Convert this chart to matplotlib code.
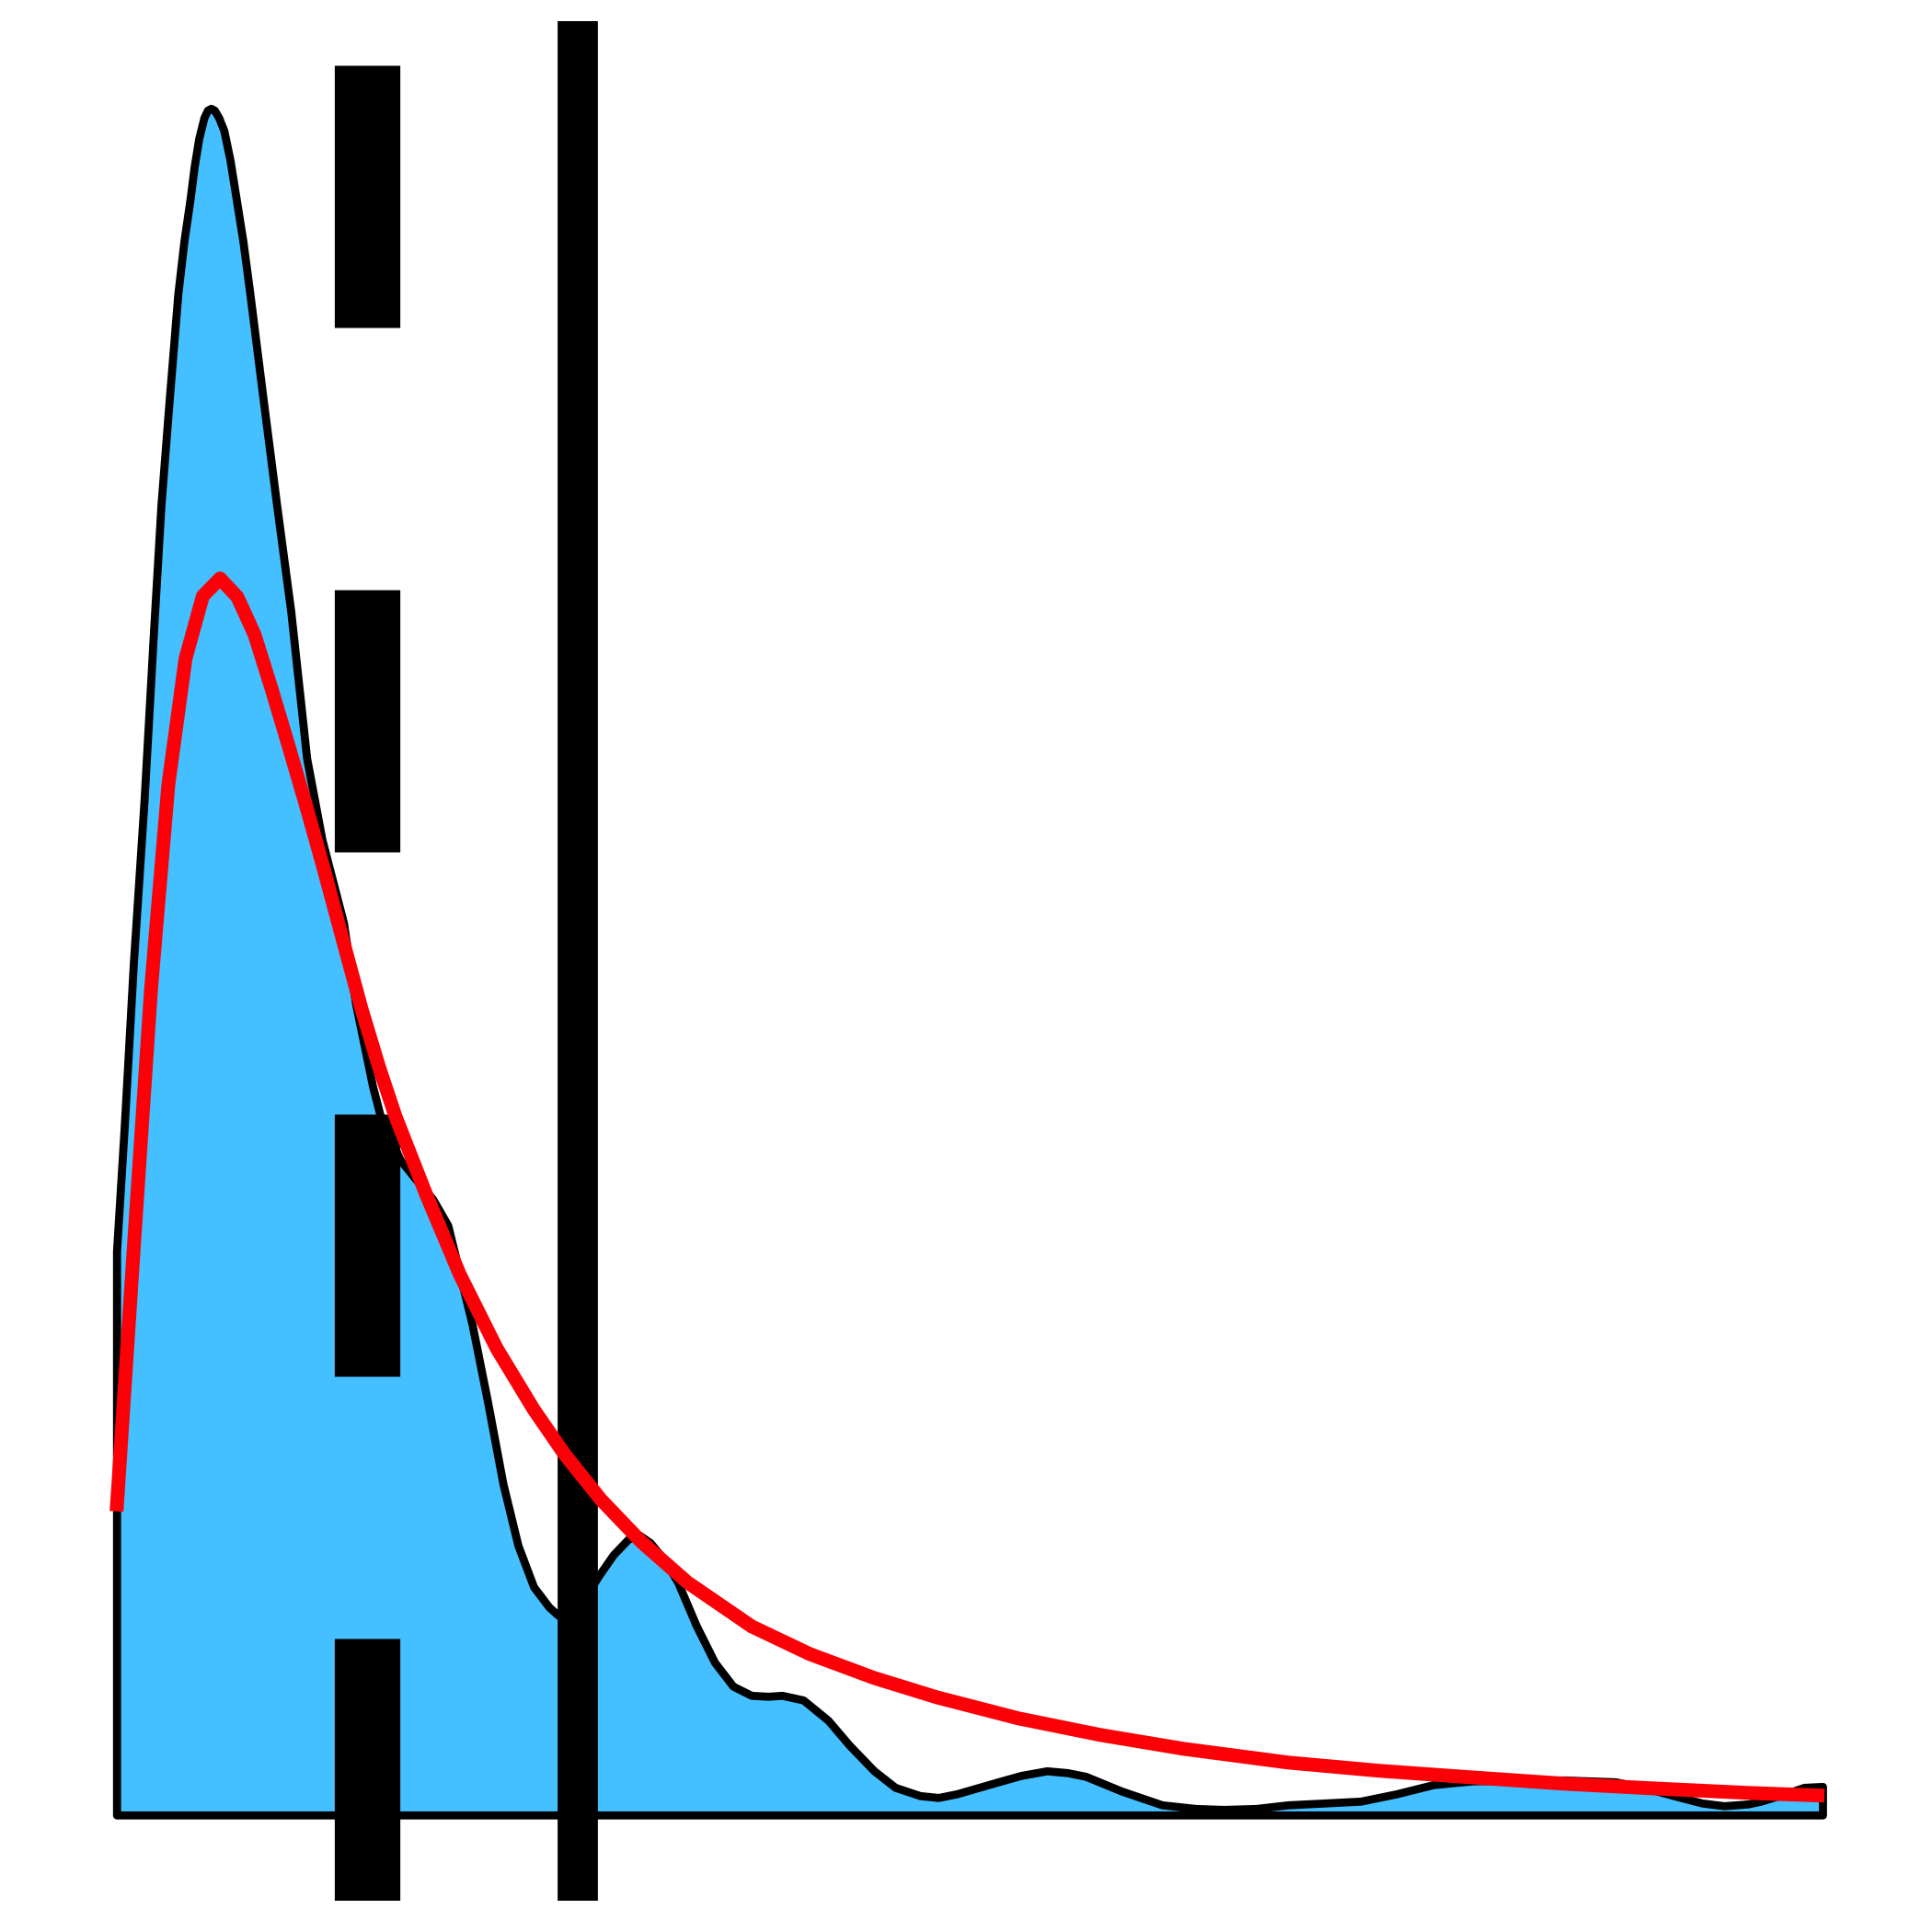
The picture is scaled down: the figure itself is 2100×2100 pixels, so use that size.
import matplotlib
matplotlib.use("Agg")
import matplotlib.pyplot as plt

# Kernel density estimate of the sample (x, density)
density_x = [0.000, 0.083, 0.183, 0.300, 0.400, 0.483, 0.573, 0.666, 0.733, 0.800,
             0.843, 0.893, 0.950, 0.988, 1.026, 1.063, 1.110, 1.166, 1.233, 1.300,
             1.373, 1.450, 1.593, 1.740, 1.893, 2.066, 2.233, 2.466, 2.600, 2.783,
             2.863, 3.083, 3.300, 3.433, 3.600, 3.733, 3.863, 4.033, 4.200, 4.363,
             4.533, 4.700, 4.800, 4.883, 5.013, 5.233, 5.400, 5.563, 5.683, 5.800,
             5.963, 6.100, 6.300, 6.500, 6.700, 6.900, 7.083, 7.233, 7.463, 7.733,
             7.963, 8.233, 8.463, 8.733, 8.933, 9.133, 9.583, 9.833, 10.113, 10.333,
             10.533, 10.923, 11.363, 11.733, 12.033, 12.383, 12.733, 13.133, 13.523, 13.913,
             14.313, 14.733, 15.233, 15.733, 16.293, 16.633, 16.963, 17.233, 17.473, 17.733,
             17.873, 18.133, 18.343, 18.543]
density_y = [0.613, 0.747, 0.926, 1.104, 1.283, 1.424, 1.539, 1.653, 1.711, 1.757,
             1.791, 1.822, 1.845, 1.853, 1.855, 1.853, 1.845, 1.831, 1.799, 1.757,
             1.711, 1.653, 1.539, 1.424, 1.309, 1.149, 1.060, 0.970, 0.881, 0.792,
             0.761, 0.712, 0.685, 0.670, 0.641, 0.587, 0.534, 0.449, 0.360, 0.293,
             0.248, 0.226, 0.217, 0.216, 0.223, 0.259, 0.283, 0.300, 0.304, 0.296,
             0.276, 0.253, 0.206, 0.166, 0.140, 0.130, 0.129, 0.130, 0.125, 0.103,
             0.076, 0.048, 0.030, 0.021, 0.019, 0.023, 0.036, 0.043, 0.048, 0.046,
             0.042, 0.026, 0.011, 0.007, 0.006, 0.007, 0.011, 0.013, 0.015, 0.023,
             0.033, 0.037, 0.038, 0.038, 0.036, 0.029, 0.020, 0.013, 0.010, 0.012,
             0.015, 0.023, 0.030, 0.031]

# Fitted distribution curve (x, pdf)
fit_x = [0.000, 0.188, 0.375, 0.563, 0.750, 0.938, 1.125, 1.313, 1.500, 1.688,
         1.873, 2.063, 2.253, 2.433, 2.663, 2.853, 3.033, 3.363, 3.733, 4.133,
         4.533, 4.863, 5.263, 5.703, 6.203, 6.903, 7.533, 8.233, 8.913, 9.803,
         10.693, 11.593, 12.733, 13.733, 14.713, 15.733, 16.683, 17.733, 18.563]
fit_y = [0.330, 0.618, 0.898, 1.120, 1.257, 1.325, 1.344, 1.324, 1.283, 1.223,
         1.161, 1.096, 1.028, 0.961, 0.876, 0.813, 0.759, 0.675, 0.587, 0.507,
         0.441, 0.393, 0.343, 0.297, 0.253, 0.205, 0.175, 0.149, 0.128, 0.105,
         0.087, 0.072, 0.057, 0.048, 0.041, 0.034, 0.029, 0.024, 0.021]

median_x = 2.723
mean_x = 5.016

fig = plt.figure(figsize=(7, 7), dpi=300)
ax = fig.add_axes([0.016, 0.01619, 0.972, 0.97286])
ax.set_xlim(-0.931, 19.481)
ax.set_ylim(-0.0932, 1.9498)

ax.fill_between(density_x, density_y, 0, facecolor="#44BFFF", edgecolor="black",
                linewidth=2.1, joinstyle="round", zorder=1)
ax.axvline(median_x, color="black", lw=17.1, linestyle=(0, (4, 4)),
           dash_capstyle="butt", zorder=2)
ax.axvline(mean_x, color="black", lw=10.5, solid_capstyle="butt", zorder=2)
ax.plot(fit_x, fit_y, color="#FC0008", lw=3.6, solid_capstyle="butt",
        solid_joinstyle="round", zorder=3)
ax.axis("off")

fig.savefig("out.png", dpi=300)
